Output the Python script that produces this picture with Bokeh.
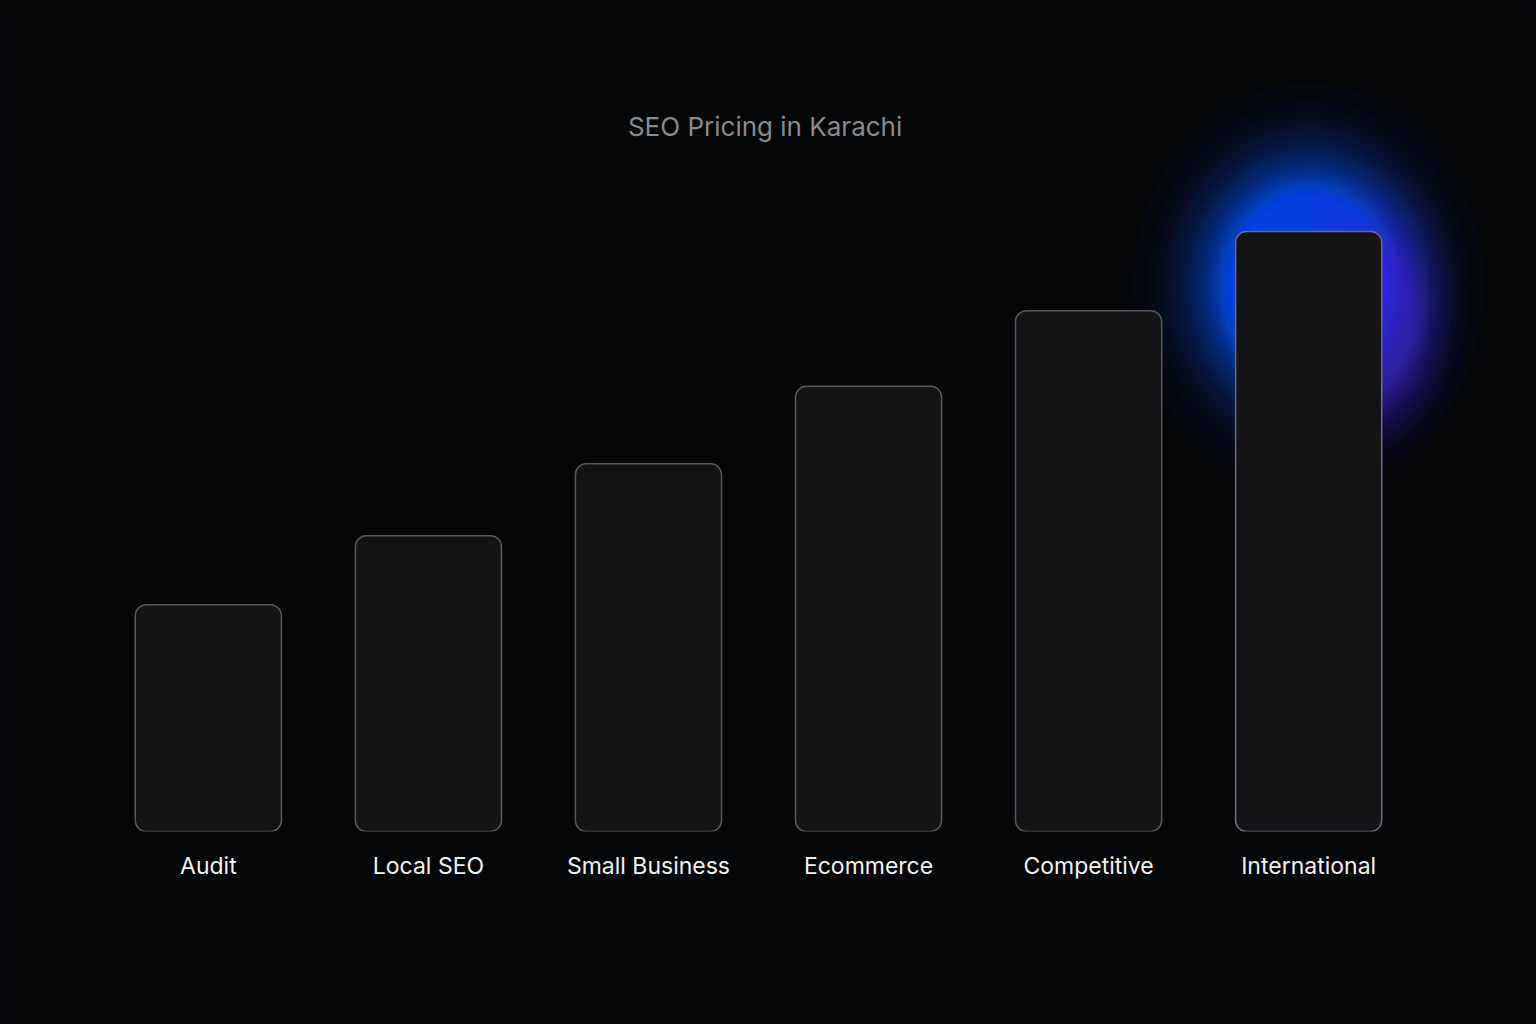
import math
from bokeh.plotting import figure
from bokeh.models import FactorRange, Range1d, ColumnDataSource
from bokeh.transform import dodge
from bokeh.core.properties import value
from bokeh.embed import file_html
from bokeh.resources import INLINE

# ---- data ----
categories = ["Audit", "Local SEO", "Small Business", "Ecommerce", "Competitive", "International"]
relative_price = [37.8, 49.3, 61.3, 74.2, 86.8, 100.0]
title_text = "SEO Pricing in Karachi"

BG = "#050608"
FONT = "Inter"

p = figure(
    width=1536, height=1024,
    x_range=FactorRange(factors=categories, range_padding=0.44, range_padding_units="absolute"),
    y_range=Range1d(0, 138.5),
    output_backend="svg", toolbar_location=None,
    min_border_left=1, min_border_right=21, min_border_top=0, min_border_bottom=193,
    background_fill_color=BG, border_fill_color=BG, outline_line_color=None,
    styles={"background-color": BG},
)


def glow_radii(sigma, amp, cap, alpha):
    """Radii of stacked translucent discs giving a clipped gaussian falloff."""
    radii = []
    k = 1
    while True:
        op = 1 - (1 - alpha) ** k
        if op >= cap or op >= amp:
            break
        radii.append(sigma * math.sqrt(2 * math.log(amp / op)))
        k += 1
    return radii


def add_glow(cat, yval, xshift, sigma, amp, cap, alpha, color, stretch=1.0):
    r = glow_radii(sigma, amp, cap, alpha)
    src = ColumnDataSource(dict(x=[cat] * len(r), y=[yval] * len(r),
                                w=[2 * v for v in r], h=[2 * v * stretch for v in r]))
    p.ellipse(x=dodge("x", xshift, range=p.x_range), y="y", width="w", height="h",
              width_units="screen", height_units="screen", source=src,
              fill_color=color, fill_alpha=alpha, line_color=None)


top_cat = categories[-1]
top_val = relative_price[-1]
# blue halo round the top of the highest bar, purple tint on its right side
add_glow(top_cat, top_val - 9, 0.0, 60, 2.2, 0.96, 0.03, "#2350ff", stretch=1.15)
add_glow(top_cat, top_val - 15, 0.28, 36, 1.1, 0.55, 0.03, "#5e26e6", stretch=1.6)

# ---- bars ----
src = ColumnDataSource(dict(cat=categories, val=relative_price,
                            line=["#58585b"] * 5 + ["#6c6a8a"]))
p.vbar(x="cat", top="val", bottom=0, width=0.664, source=src,
       fill_color="#141416", line_color="line", line_width=1.5, border_radius=11)

# ---- title ----
p.text(x=[3.03], y=[117.5], text=[title_text], text_font=value(FONT),
       text_font_size="26px", text_color="#8a8a8c", text_align="center",
       text_baseline="middle")

# ---- axes ----
p.yaxis.visible = False
p.xgrid.visible = False
p.ygrid.visible = False
ax = p.xaxis[0]
ax.axis_line_color = None
ax.major_tick_line_color = None
ax.minor_tick_line_color = None
ax.major_tick_out = 0
ax.major_tick_in = 0
ax.major_label_standoff = 20
ax.major_label_text_font = FONT
ax.major_label_text_font_size = "23px"
ax.major_label_text_color = "#f2f2f2"

open("out.html", "w").write(file_html(p, INLINE))
